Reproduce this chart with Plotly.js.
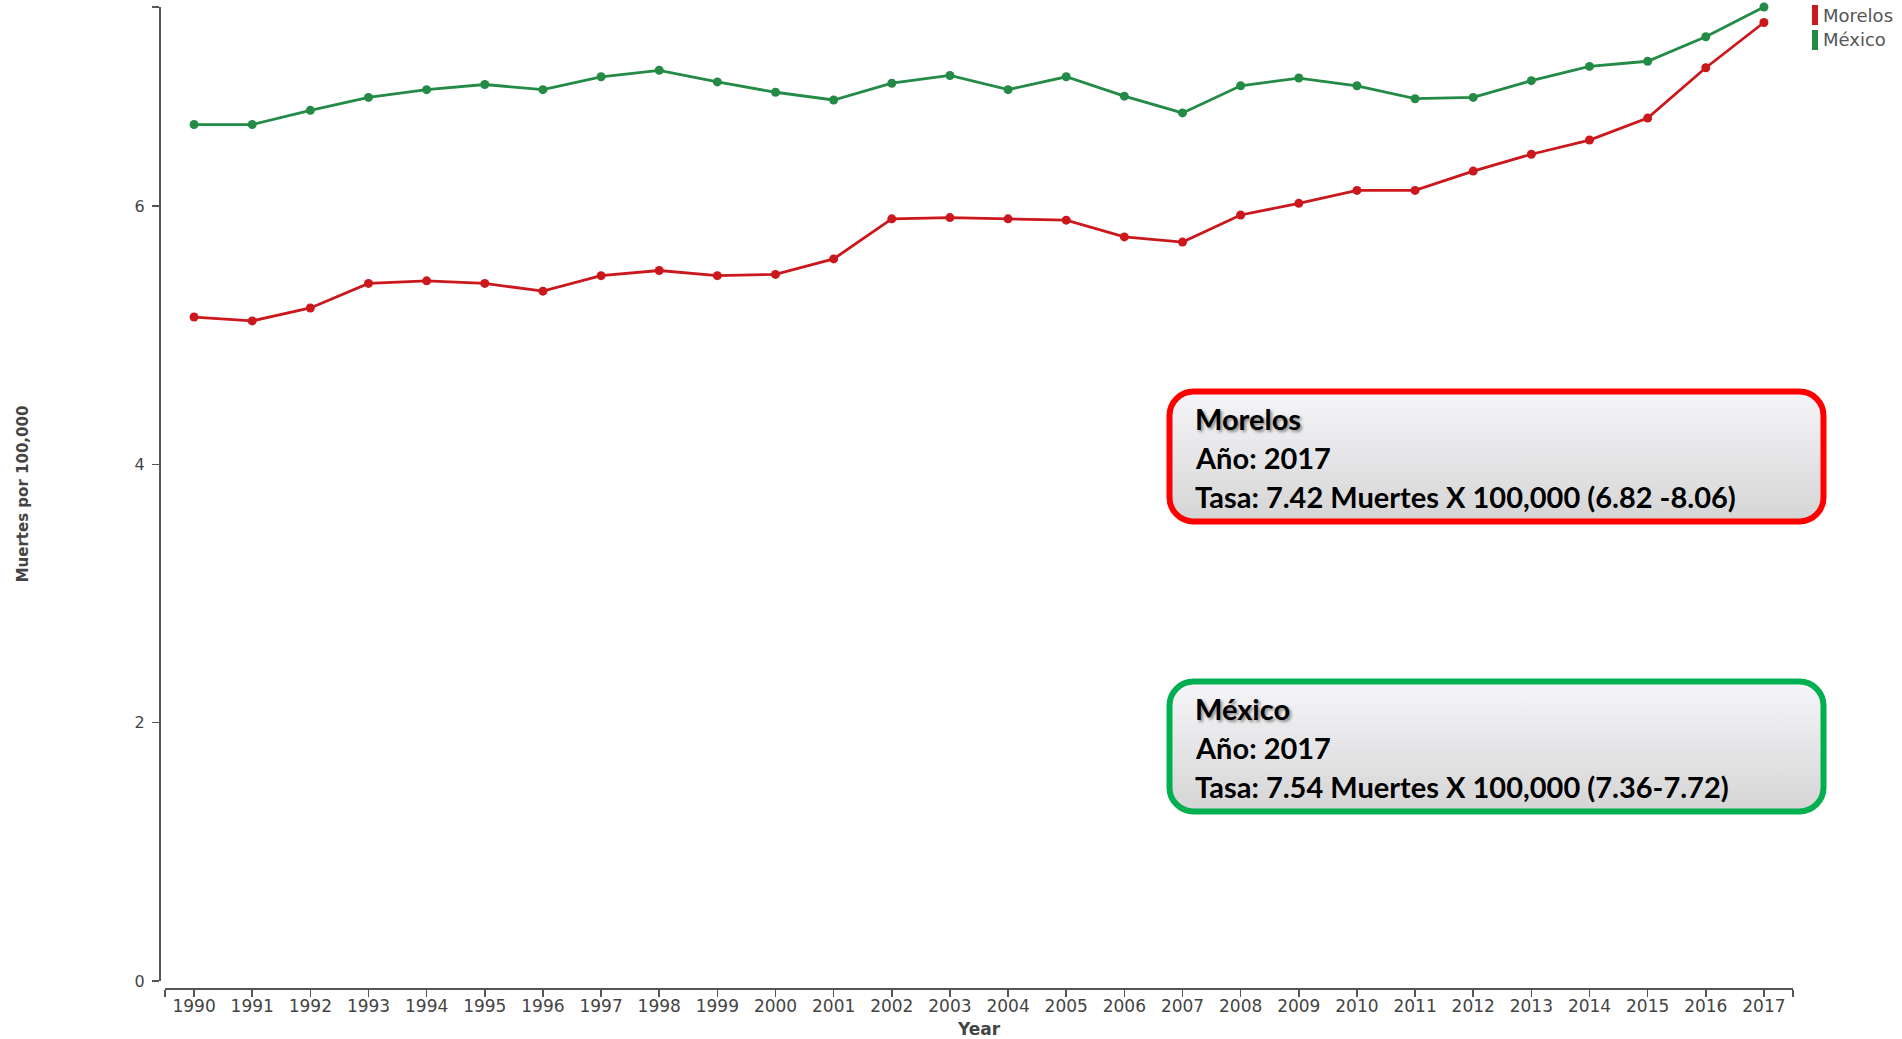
<!DOCTYPE html>
<html>
<head>
<meta charset="utf-8">
<script src="https://cdn.plot.ly/plotly-3.0.1.min.js"></script>
<style>html,body{margin:0;padding:0;background:#fff;}#chart{width:1902px;height:1039px;}</style>
</head>
<body>
<div id="chart"></div>
<script>
// ---- Data ----
const years = [1990,1991,1992,1993,1994,1995,1996,1997,1998,1999,2000,2001,2002,2003,2004,2005,2006,2007,2008,2009,2010,2011,2012,2013,2014,2015,2016,2017];
const morelos = [5.14,5.11,5.21,5.40,5.42,5.40,5.34,5.46,5.50,5.46,5.47,5.59,5.90,5.91,5.90,5.89,5.76,5.72,5.93,6.02,6.12,6.12,6.27,6.40,6.51,6.68,7.07,7.42];
const mexico  = [6.63,6.63,6.74,6.84,6.90,6.94,6.90,7.00,7.05,6.96,6.88,6.82,6.95,7.01,6.90,7.00,6.85,6.72,6.93,6.99,6.93,6.83,6.84,6.97,7.08,7.12,7.31,7.54];
const seriesNames = ["Morelos","México"];
const seriesColors = ["#cb181d","#238b45"];
const yTicks = [0,2,4,6];
const boxBorders = ["#FF0000","#00B050"];
const boxYear = ["2017","2017"];
const boxRate = ["7.42","7.54"];
const boxCI = ["(6.82 -8.06)","(7.36-7.72)"];

const yMax = Math.max(...morelos, ...mexico);
const xMin = years[0] - 0.5, xMax = years[years.length-1] + 0.5;

const axisFamily = "DejaVu Sans, Verdana, sans-serif";
const axisColor = "#555";

const traces = [morelos, mexico].map((vals, i) => ({
  type: "scatter", mode: "lines+markers", name: seriesNames[i],
  x: years, y: vals,
  line: {color: seriesColors[i], width: 2.8},
  marker: {color: seriesColors[i], size: 9},
  cliponaxis: false,
  showlegend: false, hoverinfo: "x+y+name"
}));

// geometry helpers (paper fractions)
const L = 159, R = 109, T = 7, B = 51, W = 1902, H = 1039;
const pw = W - L - R, ph = H - T - B;
const px = v => (v - L) / pw;
const py = v => (H - B - v) / ph;

function boxSvg(color){
  const s = "<svg xmlns='http://www.w3.org/2000/svg' width='661' height='137' viewBox='0 0 661 137'>" +
    "<defs><linearGradient id='g' x1='0' y1='0' x2='0' y2='1'>" +
    "<stop offset='0' stop-color='#F6F6FA'/><stop offset='1' stop-color='#D5D5D5'/></linearGradient></defs>" +
    "<rect x='3.5' y='3.5' width='654' height='130' rx='24' ry='24' fill='url(#g)' stroke='" + color + "' stroke-width='6'/></svg>";
  return "data:image/svg+xml;charset=utf-8," + encodeURIComponent(s);
}

const boxTops = [388, 678];
const images = boxTops.map((top, i) => ({
  source: boxSvg(boxBorders[i]), xref: "paper", yref: "paper",
  x: px(1166), y: py(top), sizex: 661 / pw, sizey: 137 / ph,
  xanchor: "left", yanchor: "top", sizing: "stretch", layer: "above"
}));

const boxFont = {family: "Lato, 'Open Sans', sans-serif", size: 29, color: "#000", weight: "bold"};
const annotations = [];
boxTops.forEach((top, i) => {
  const lines = [seriesNames[i], "Año: " + boxYear[i], "Tasa: " + boxRate[i] + " Muertes X 100,000 " + boxCI[i]];
  lines.forEach((t, j) => {
    const f = Object.assign({}, boxFont);
    if (j === 0) f.shadow = "2px 2px 3px #888";
    annotations.push({
      xref: "paper", yref: "paper", x: px(1193), y: py(top + 30 + j * 39),
      xanchor: "left", yanchor: "middle", showarrow: false, text: t, font: f
    });
  });
});

// legend (custom, colored bars + text)
const shapes = [];
const legendY = [15, 40];
seriesNames.forEach((n, i) => {
  shapes.push({type: "rect", xref: "paper", yref: "paper", x0: px(1812), x1: px(1818),
    y0: py(legendY[i] - 10), y1: py(legendY[i] + 10), fillcolor: seriesColors[i], line: {width: 0}});
  annotations.push({xref: "paper", yref: "paper", x: px(1821), y: py(legendY[i]),
    xanchor: "left", yanchor: "middle", showarrow: false, text: n,
    font: {family: axisFamily, size: 18, color: "#555"}});
});

const xTickVals = [xMin, ...years, xMax];
const xTickText = ["", ...years.map(String), ""];
const yTickVals = [...yTicks, yMax];
const yTickText = [...yTicks.map(String), ""];

const layout = {
  width: W, height: H,
  margin: {l: L, r: R, t: T, b: B, pad: 0},
  paper_bgcolor: "#fff", plot_bgcolor: "#fff",
  showlegend: false,
  xaxis: {
    domain: [6 / pw, 1], anchor: "free", position: 0,
    range: [xMin, xMax], tickmode: "array", tickvals: xTickVals, ticktext: xTickText,
    showgrid: false, zeroline: false, showline: true, linecolor: axisColor, linewidth: 1.5,
    ticks: "outside", ticklen: 7, tickwidth: 1.5, tickcolor: axisColor, ticklabelstandoff: -5,
    tickfont: {family: axisFamily, size: 17, color: "#444"},
    title: {text: "Year", font: {family: axisFamily, size: 17, color: "#444", weight: "bold"}, standoff: 15},
    automargin: false, fixedrange: true
  },
  yaxis: {
    domain: [7 / ph, 1], anchor: "free", position: 0,
    range: [0, yMax], tickmode: "array", tickvals: yTickVals, ticktext: yTickText,
    showgrid: false, zeroline: false, showline: true, linecolor: axisColor, linewidth: 1.5,
    ticks: "outside", ticklen: 7, tickwidth: 1.5, tickcolor: axisColor, ticklabelstandoff: 4,
    tickfont: {family: axisFamily, size: 16, color: "#444"},
    title: {text: "Muertes por 100,000", font: {family: axisFamily, size: 15, color: "#444", weight: "bold"}, standoff: 101},
    automargin: false, fixedrange: true
  },
  images: images,
  shapes: shapes,
  annotations: annotations
};

Plotly.newPlot("chart", traces, layout, {displayModeBar: false, staticPlot: true});
</script>
</body>
</html>
